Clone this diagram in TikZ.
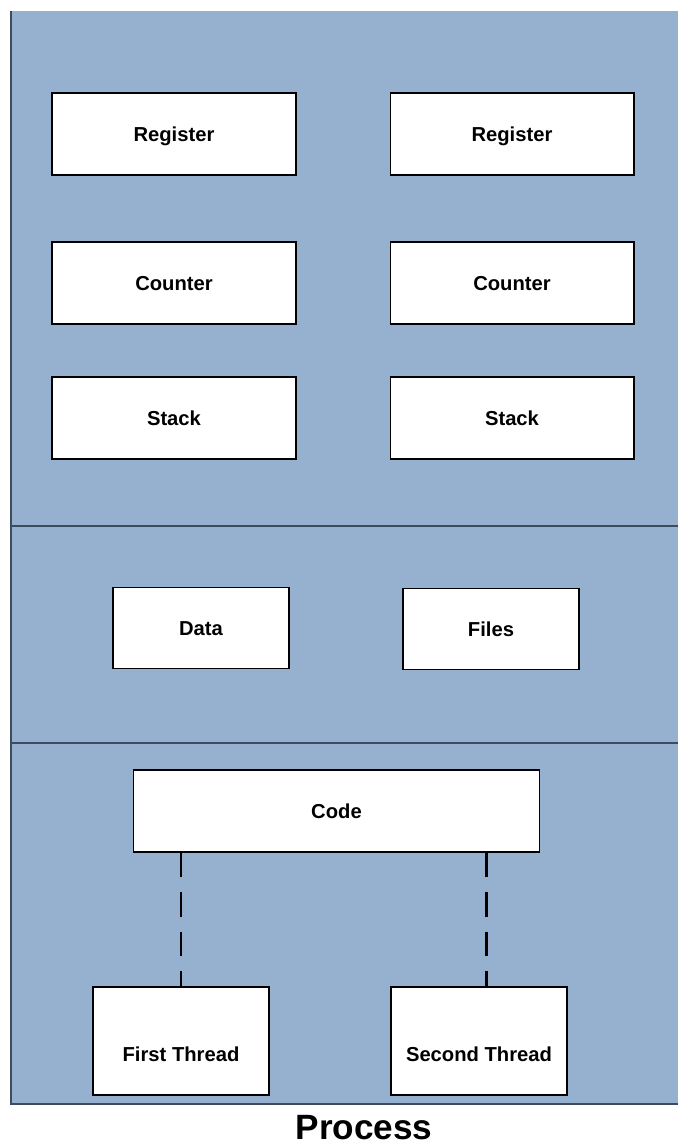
\documentclass[tikz,border=0pt]{standalone}
\usepackage{fontspec}
\setmainfont{Liberation Sans}
\usetikzlibrary{positioning}

\definecolor{procblue}{HTML}{96B0D0}
\definecolor{procline}{HTML}{3E4B5C}

\begin{document}
\begin{tikzpicture}[
    x=0.02cm, y=-0.02cm,
    partbox/.style={draw=black, line width=0.6pt, fill=white, font=\fontsize{11.5}{13}\selectfont\bfseries,
        text height=8.2pt, text depth=0pt, inner sep=0pt},
    regbox/.style={partbox, minimum width=4.88cm, minimum height=1.64cm},
    resbox/.style={partbox, minimum width=3.52cm, minimum height=1.62cm},
    threadbox/.style={partbox, minimum width=3.52cm, minimum height=2.16cm, text height=23pt},
    splitline/.style={procline, line width=1.1pt},
    threadlink/.style={black, line width=1.7pt, dash pattern=on 14pt off 8.5pt}
]
\useasboundingbox (0,0) rectangle (678,1145);

% Process area
\fill[procblue] (11,11) rectangle (678,1104);
\draw[splitline] (11,11) -- (11,1104) -- (678,1104);
\draw[splitline] (11,526) -- (678,526);
\draw[splitline] (11,743) -- (678,743);

% Per-thread parts
\node[regbox] (reg1) at (174,134) {Register};
\node[regbox] (reg2) at (512,134) {Register};
\node[regbox] (cnt1) at (174,283) {Counter};
\node[regbox] (cnt2) at (512,283) {Counter};
\node[regbox] (stk1) at (174,418) {Stack};
\node[regbox] (stk2) at (512,418) {Stack};

% Shared resources
\node[resbox] (data) at (201,628) {Data};
\node[resbox] (files) at (491,629) {Files};

% Code and threads
\node[regbox, minimum width=8.14cm] (code) at (336.5,811) {Code};
\node[threadbox] (thr1) at (181,1041) {First Thread};
\node[threadbox] (thr2) at (479,1041) {Second Thread};

\draw[threadlink] (code.south -| thr1) -- (thr1.north);
\draw[threadlink] (code.south -| 486,0) -- (486,0 |- thr2.north) coordinate (t2top);

% Caption
\node[font=\fontsize{20}{24}\selectfont\bfseries, text height=14.3pt, text depth=0pt, inner sep=0pt] (title) at (364,1127) {Process};

\end{tikzpicture}
\end{document}
